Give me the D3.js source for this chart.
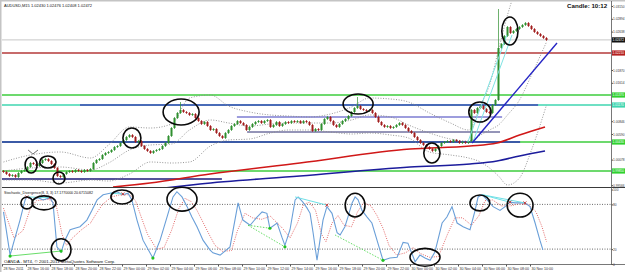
<!DOCTYPE html>
<html>
<head>
<meta charset="utf-8">
<script src="https://cdn.jsdelivr.net/npm/d3@7"></script>
<style>
  body { margin: 0; background: #fff; }
  svg { display: block; }
  text { font-family: "Liberation Sans", Arial, sans-serif; }
</style>
</head>
<body>
<div id="chart"></div>
<script>
// ---- DATA ----
const titleText = "AUDUSD,M15  1.02430 1.02476 1.02408 1.02472";
const stochText = "Stochastic_Divergence(8, 3, 3) 17.1770000 20.6715082";
const footText = "OANDA - MT4, \u00a9 2001-2011 MetaQuotes Software Corp.";
const candleTimer = "Candle:   10:12";

// 15 minute bars, oldest first
const firstOpen = 0.9985;
const closes = [
  0.9983, 0.9979, 0.9975, 0.9977, 0.9973, 0.9981, 0.9985, 0.9987, 0.9993, 1.0001,
  0.9999, 0.9995, 1.0001, 1.0007, 1.0009, 1.0005, 0.9999, 0.9991, 0.9975, 0.9973,
  0.9979, 0.9983, 0.9985, 0.9983, 0.9987, 0.9985, 0.9983, 0.9987, 0.9985, 0.9989,
  1.0001, 1.0007, 1.0009, 1.0017, 1.0021, 1.0023, 1.0027, 1.0033, 1.0035, 1.0041,
  1.0047, 1.0053, 1.0057, 1.0053, 1.0043, 1.0045, 1.0035, 1.0029, 1.0025, 1.0021,
  1.0025, 1.0027, 1.0029, 1.0035, 1.0041, 1.0055, 1.0071, 1.0091, 1.0101, 1.0107,
  1.0103, 1.0101, 1.0097, 1.0099, 1.0091, 1.0085, 1.0079, 1.0083, 1.0075, 1.0067,
  1.0069, 1.0061, 1.0055, 1.0051, 1.0061, 1.0067, 1.0075, 1.0079, 1.0085, 1.0081,
  1.0077, 1.0067, 1.0073, 1.0079, 1.0083, 1.0085, 1.0081, 1.0085, 1.0087, 1.0073,
  1.0077, 1.0083, 1.0075, 1.0079, 1.0083, 1.0081, 1.0085, 1.0083, 1.0085, 1.0081,
  1.0085, 1.0083, 1.0077, 1.0065, 1.0069, 1.0067, 1.0079, 1.0089, 1.0093, 1.0085,
  1.0077, 1.0073, 1.0079, 1.0085, 1.0089, 1.0095, 1.0103, 1.0111, 1.0115, 1.0109,
  1.0107, 1.0105, 1.0107, 1.0101, 1.0093, 1.0083, 1.0077, 1.0073, 1.0075, 1.0071,
  1.0073, 1.0077, 1.0081, 1.0077, 1.0071, 1.0065, 1.0061, 1.0053, 1.0047, 1.0041,
  1.0037, 1.0033, 1.0029, 1.0025, 1.0029, 1.0035, 1.0041, 1.0043, 1.0045, 1.0043,
  1.0047, 1.0045, 1.0041, 1.0043, 1.0041, 1.0045, 1.0107, 1.0101, 1.0111, 1.0115,
  1.0109, 1.0103, 1.0101, 1.0117, 1.0127, 1.0231, 1.0239, 1.0255, 1.0273, 1.0261,
  1.0265, 1.0269, 1.0273, 1.0277, 1.0281, 1.0275, 1.0269, 1.0263, 1.0259, 1.0255,
  1.0251, 1.0247
];
// bars with a visible upper wick: [bar, high]
const spikes = [[59, 1.0121], [118, 1.0131], [165, 1.0307]];

const currentPrice = 1.02472;
const levelPrices = [1.0221, 1.0137, 1.0117, 1.0043, 0.9985];
// horizontal segments: [fromBar, toBar, price]
const segments = [[25.5, 178.2, 1.0117], [-0.5, 172.2, 1.0043], [-0.5, 72.8, 0.9969],
                  [77.8, 166.2, 1.0093], [81.2, 165.5, 1.0063]];
// trend lines: [bar1, price1, bar2, price2]
const trendBlue = [[156.2, 1.0041, 184.5, 1.0241]];
const trendCyan = [[154.8, 1.0043, 167.8, 1.0257], [156.5, 1.0043, 169.5, 1.0257]];

// moving averages: [bar, price]
const maRed = [[36.5, 0.9953], [48.8, 0.9961], [68.8, 0.9979], [98.8, 1.0001], [135.5, 1.0029],
               [155.5, 1.0035], [164.5, 1.0041], [172, 1.0057], [180.5, 1.0073]];
const maBlue = [[53.8, 0.9951], [65.5, 0.9959], [98.8, 0.9975], [135.5, 0.9993], [155.5, 0.9999],
                [164.5, 1.0005], [172, 1.0015], [180.5, 1.0025]];

// bollinger bands
const bandBars  = [0, 9, 19, 29, 35, 42, 49, 56, 62, 69, 75, 82, 89, 95, 102, 109, 116, 122, 129, 135,
                   142, 149, 155, 159, 162, 165, 168, 172, 176, 181];
const bandUpper = [1.0003, 1.0017, 1.0023, 1.0011, 1.0037, 1.0073, 1.0071, 1.0079, 1.0131, 1.0137,
                   1.0115, 1.0103, 1.0097, 1.0095, 1.0093, 1.0099, 1.0113, 1.0131, 1.0129, 1.0123,
                   1.0101, 1.0081, 1.0067, 1.0117, 1.0157, 1.0227, 1.0297, 1.0367, 1.0407, 1.0427];
const bandMid   = [0.9985, 0.9991, 0.9993, 0.9987, 1.0001, 1.0027, 1.0037, 1.0039, 1.0067, 1.0087,
                   1.0081, 1.0075, 1.0079, 1.0081, 1.0081, 1.0081, 1.0087, 1.0097, 1.0093, 1.0077,
                   1.0061, 1.0049, 1.0045, 1.0057, 1.0067, 1.0077, 1.0097, 1.0127, 1.0177, 1.0243];
const bandLower = [0.9967, 0.9967, 0.9961, 0.9967, 0.9965, 0.9979, 1.0003, 1.0001, 1.0003, 1.0035,
                   1.0047, 1.0049, 1.0061, 1.0067, 1.0067, 1.0063, 1.0059, 1.0061, 1.0057, 1.0051,
                   1.0023, 1.0017, 1.0011, 1.0003, 0.9991, 0.9975, 0.9957, 0.9971, 1.0027, 1.0117];

// stochastic: [bar, value]
const stochMain = [[0, 70], [2.2, 12], [5.5, 59], [7.2, 86], [7.8, 90], [9.8, 86], [11.5, 89], [13.2, 86],
  [15.5, 89], [16.5, 82], [17.8, 23], [19.2, 16], [20.5, 32], [22.2, 46], [23.8, 48], [25.5, 50],
  [27.8, 59], [29.5, 72], [31.2, 86], [33.2, 93], [35.5, 95], [37.8, 97], [39.8, 93], [41.5, 95],
  [42.8, 86], [44.5, 59], [46.5, 32], [49.8, 8], [52.2, 32], [54.5, 63], [56.5, 90], [57.8, 97],
  [59.5, 90], [61.2, 77], [62.8, 63], [64.5, 50], [66.5, 32], [68.8, 19], [69.8, 15], [72.2, 12],
  [75.5, 23], [78.2, 82], [79.8, 59], [82.2, 52], [84.5, 63], [86.2, 70], [87.8, 68], [88.8, 48],
  [91.2, 55], [92.8, 36], [93.8, 25], [95.5, 46], [97.2, 86], [98.2, 90], [99.8, 83], [101.2, 75],
  [102.2, 68], [103.2, 42], [104.5, 5], [105.5, 32], [106.5, 59], [107.8, 77], [109.5, 68], [111.2, 42],
  [112.2, 39], [113.8, 50], [114.8, 63], [116.2, 82], [117.2, 90], [118.2, 86], [119.5, 72], [121.2, 63],
  [122.8, 55], [124.5, 32], [126.5, 5], [128.8, 8], [131.2, 9], [133.2, 29], [134.8, 28], [137.2, 3],
  [138.8, 12], [140.5, 8], [142.2, 5], [143.8, 16], [146.2, 55], [147.8, 63], [149.5, 77], [151.2, 55],
  [153.2, 50], [155.5, 46], [157.2, 72], [158.2, 90], [159.5, 93], [161.2, 86], [163.2, 77], [165.5, 72],
  [167.2, 77], [168.8, 83], [170.5, 82], [172.2, 82], [173.8, 82], [175.5, 77], [177.2, 55], [178.8, 32],
  [179.8, 19]];
const stochSignal = [[0, 75], [3.5, 35], [6.5, 45], [9, 75], [11, 85], [15, 87], [17.5, 80], [19.5, 40],
  [21, 25], [23, 35], [26, 46], [29, 55], [31, 68], [33, 80], [36, 90], [39, 93], [42, 93], [44, 85],
  [46, 62], [48, 40], [51, 20], [53.5, 22], [56, 45], [58.5, 75], [60.5, 88], [62.5, 84], [64.5, 72],
  [66.5, 56], [68.5, 40], [70.5, 25], [73, 17], [76, 18], [78, 45], [80.5, 68], [83, 62], [86, 60],
  [89, 64], [90.5, 58], [93, 48], [95.5, 35], [98, 55], [100, 80], [102, 83], [104, 72], [106, 40],
  [107.5, 30], [109.5, 55], [111.5, 65], [113.5, 52], [116, 50], [118, 70], [120, 82], [122.5, 78],
  [124.5, 65], [126.5, 48], [128.5, 25], [131, 12], [134, 15], [136.5, 22], [139, 14], [142, 9],
  [145, 10], [148, 40], [150.5, 62], [153, 62], [156, 52], [158.5, 65], [160.5, 85], [163, 86],
  [166, 78], [169, 78], [172, 81], [175, 80], [177.5, 70], [179.5, 50], [181, 30]];
const stochLevels = [80, 20];
const stochTicks = [100, 80, 20, 0];

// divergence marks: [bar1, value1, bar2, value2]
const divGreen = [[2.2, 10.7, 19.2, 17.4], [81.5, 52, 88.8, 48], [81.5, 52, 93.8, 23], [110.5, 39, 126.5, 5]];
const divCyan = [[7.8, 90, 15.5, 89], [35.5, 95, 39.8, 94], [97.2, 90, 107.8, 79],
                 [159.5, 93, 168.8, 83], [159.5, 93, 173.8, 82]];
const greenDots = [[2.2, 10.7], [19.2, 17.4], [49.8, 8], [88.8, 48], [93.8, 23], [126.5, 5]];
const redMarks = [[7.8, 90], [15.5, 89], [39.8, 94], [107.8, 79], [168.8, 83], [173.8, 82]];

// hand drawn circles: [bar, price, halfWidthBars, halfHeightPrice]
const circlesMain = [[59.2, 1.0103, 6, 0.0026], [42.8, 1.0051, 3, 0.0020], [9.2, 0.9997, 2, 0.0016],
  [14.8, 1.0003, 2.7, 0.0012], [18.5, 0.9971, 2, 0.0012], [118.2, 1.0119, 5, 0.0020],
  [158.8, 1.0103, 3.7, 0.0020], [142.8, 1.0021, 2.7, 0.0020], [168.8, 1.0265, 2.7, 0.0028]];
// [bar, value, halfWidthBars, halfHeightValue]
const circlesStoch = [[7.8, 82, 2, 8], [13.5, 82, 4, 9.4], [19.2, 19, 3.3, 14.8], [39.5, 90, 3.7, 9.4],
  [59.5, 87, 5, 16], [117.2, 79, 3.3, 16], [158.8, 82, 3.3, 10.7], [172.2, 79, 4.3, 16], [140.5, 9, 5, 12]];
const tickMark = [[8.2, 1.0027], [9.8, 1.0019], [11.5, 1.0027]];

// axis labels
const priceTicks = [1.03150, 1.02894, 1.02638, 1.02382, 1.02126, 1.01870, 1.01614, 1.01358,
                    1.01102, 1.00846, 1.00590, 1.00334, 1.00078, 0.99822, 0.99566];
const timeLabels = ["28 Nov 2011", "28 Nov 16:00", "28 Nov 18:00", "28 Nov 20:00", "28 Nov 22:00",
  "29 Nov 00:00", "29 Nov 02:00", "29 Nov 04:00", "29 Nov 06:00", "29 Nov 08:00", "29 Nov 10:00",
  "29 Nov 12:00", "29 Nov 14:00", "29 Nov 16:00", "29 Nov 18:00", "29 Nov 20:00", "29 Nov 22:00",
  "30 Nov 00:00", "30 Nov 02:00", "30 Nov 04:00", "30 Nov 06:00", "30 Nov 08:00", "30 Nov 10:00"];
const barsPerLabel = 8;

// ---- LAYOUT ----
const W = 625, H = 272;
const plotL = 2, plotR = 611;
const mainT = 2, mainB = 187, indT = 188, indB = 264;
const axisFont = 3.2;

const svg = d3.select("#chart").append("svg")
  .attr("width", W).attr("height", H);

const x = d3.scaleLinear().domain([-0.5, 202.5]).range([plotL, plotR]);
const y = d3.scaleLinear().domain([0.9953, 1.0323]).range([mainB, mainT]);
const ys = d3.scaleLinear().domain([0, 100]).range([indB, 189.5]);

const defs = svg.append("defs");
defs.append("clipPath").attr("id", "clipMain").append("rect")
  .attr("x", plotL).attr("y", mainT).attr("width", plotR - plotL).attr("height", mainB - mainT);
defs.append("clipPath").attr("id", "clipInd").append("rect")
  .attr("x", plotL).attr("y", indT).attr("width", plotR - plotL).attr("height", indB - indT);

// frame
svg.append("rect").attr("x", 0).attr("y", 0).attr("width", W).attr("height", 1.5).attr("fill", "#c4c4c4");
svg.append("rect").attr("x", 0).attr("y", 0).attr("width", 1.5).attr("height", H).attr("fill", "#c4c4c4");

const gMain = svg.append("g").attr("clip-path", "url(#clipMain)");
const gInd = svg.append("g").attr("clip-path", "url(#clipInd)");

// ---- MAIN PANE ----
gMain.append("line")
  .attr("x1", plotL).attr("x2", plotR)
  .attr("y1", y(currentPrice)).attr("y2", y(currentPrice))
  .attr("stroke", "#c8c8c8").attr("stroke-width", 1);

const levelColors = ["#b53a3a", "#3dcc3d", "#3fd6b0", "#3dcc3d", "#3dcc3d"];
levelPrices.forEach((p, k) => {
  gMain.append("line")
    .attr("x1", plotL).attr("x2", plotR).attr("y1", y(p)).attr("y2", y(p))
    .attr("stroke", levelColors[k]).attr("stroke-width", 1.3);
});

const segColors = ["#4a6cb8", "#3b5aa6", "#1b1b78", "#7c7cd2", "#2b2b70"];
const segWidths = [2, 2, 1.5, 1.5, 1];
segments.forEach((s, k) => {
  gMain.append("line")
    .attr("x1", x(s[0])).attr("x2", x(s[1])).attr("y1", y(s[2])).attr("y2", y(s[2]))
    .attr("stroke", segColors[k]).attr("stroke-width", segWidths[k]);
});

// bollinger bands
const bandLine = vals => d3.line()
  .x((d, i) => x(bandBars[i])).y(d => y(d))
  .curve(d3.curveMonotoneX)(vals);
[bandUpper, bandMid, bandLower].forEach(vals => {
  gMain.append("path").attr("d", bandLine(vals))
    .attr("fill", "none").attr("stroke", "#8a8a8a")
    .attr("stroke-width", 0.9).attr("stroke-dasharray", "1,1.6");
});

// moving averages
const maLine = d3.line().x(d => x(d[0])).y(d => y(d[1])).curve(d3.curveMonotoneX);
gMain.append("path").attr("d", maLine(maRed))
  .attr("fill", "none").attr("stroke", "#d01818").attr("stroke-width", 1.6);
gMain.append("path").attr("d", maLine(maBlue))
  .attr("fill", "none").attr("stroke", "#1c1c9c").attr("stroke-width", 1.6);

// candles
const bars = closes.map((c, i) => {
  const o = i === 0 ? firstOpen : closes[i - 1];
  const sp = spikes.find(s => s[0] === i);
  return { i, o, c, hi: sp ? sp[1] : Math.max(o, c), lo: Math.min(o, c) };
});
const bull = "#2f8f2f", bear = "#a11d1d";
gMain.selectAll(".wick").data(bars).join("line")
  .attr("class", "wick")
  .attr("x1", d => x(d.i)).attr("x2", d => x(d.i))
  .attr("y1", d => y(d.hi) - 1).attr("y2", d => y(d.lo) + 1)
  .attr("stroke", d => d.c >= d.o ? bull : bear).attr("stroke-width", 0.7);
gMain.selectAll(".body").data(bars).join("rect")
  .attr("class", "body")
  .attr("x", d => x(d.i) - 1).attr("width", 2)
  .attr("y", d => y(Math.max(d.o, d.c)))
  .attr("height", d => Math.max(1, Math.abs(y(d.o) - y(d.c))))
  .attr("fill", d => d.c >= d.o ? bull : bear);

// trend lines
trendCyan.forEach(t => {
  gMain.append("line").attr("x1", x(t[0])).attr("y1", y(t[1])).attr("x2", x(t[2])).attr("y2", y(t[3]))
    .attr("stroke", "#7fe3e3").attr("stroke-width", 1);
});
trendBlue.forEach(t => {
  gMain.append("line").attr("x1", x(t[0])).attr("y1", y(t[1])).attr("x2", x(t[2])).attr("y2", y(t[3]))
    .attr("stroke", "#2424c4").attr("stroke-width", 1.4);
});

// ---- STOCHASTIC PANE ----
stochLevels.forEach(v => {
  gInd.append("line").attr("x1", plotL).attr("x2", plotR).attr("y1", ys(v)).attr("y2", ys(v))
    .attr("stroke", "#444").attr("stroke-width", 0.8).attr("stroke-dasharray", "1,1.5");
});
const stLine = d3.line().x(d => x(d[0])).y(d => ys(d[1]));
gInd.append("path").attr("d", stLine(stochSignal))
  .attr("fill", "none").attr("stroke", "#e05858").attr("stroke-width", 0.9).attr("stroke-dasharray", "1,1.3");
gInd.append("path").attr("d", stLine(stochMain))
  .attr("fill", "none").attr("stroke", "#6a9fd8").attr("stroke-width", 1.1);

divGreen.forEach((d, k) => {
  gInd.append("line").attr("x1", x(d[0])).attr("y1", ys(d[1])).attr("x2", x(d[2])).attr("y2", ys(d[3]))
    .attr("stroke", "#57d957").attr("stroke-width", 0.9)
    .attr("stroke-dasharray", k === 0 ? null : "1.5,1.5");
});
divCyan.forEach(d => {
  gInd.append("line").attr("x1", x(d[0])).attr("y1", ys(d[1])).attr("x2", x(d[2])).attr("y2", ys(d[3]))
    .attr("stroke", "#6fe0e6").attr("stroke-width", 1);
});
gInd.selectAll(".gdot").data(greenDots).join("circle")
  .attr("class", "gdot").attr("cx", d => x(d[0])).attr("cy", d => ys(d[1])).attr("r", 1.6)
  .attr("fill", "#22c322");
gInd.selectAll(".rmark").data(redMarks).join("path")
  .attr("class", "rmark")
  .attr("d", d => { const cx = x(d[0]), cy = ys(d[1]);
    return `M${cx - 1.5},${cy - 1.5}L${cx + 1.5},${cy + 1.5}M${cx + 1.5},${cy - 1.5}L${cx - 1.5},${cy + 1.5}`; })
  .attr("stroke", "#c43030").attr("stroke-width", 0.9);

// ---- PANE LINES AND AXES ----
svg.append("line").attr("x1", plotL).attr("x2", W).attr("y1", 187.5).attr("y2", 187.5)
  .attr("stroke", "#3a3a3a").attr("stroke-width", 1.2);
svg.append("line").attr("x1", plotL).attr("x2", W).attr("y1", indB + 0.5).attr("y2", indB + 0.5)
  .attr("stroke", "#555").attr("stroke-width", 0.8);
svg.append("line").attr("x1", plotR + 0.5).attr("x2", plotR + 0.5).attr("y1", 1).attr("y2", indB + 1)
  .attr("stroke", "#555").attr("stroke-width", 0.8);

// tick labels hidden under a coloured price tag, as the terminal does
const tagPrices = [currentPrice].concat(levelPrices);
const underTag = p => tagPrices.some(t => Math.abs(y(t) - y(p)) < 5);

svg.append("g").attr("transform", `translate(${plotR + 0.5},0)`)
  .call(d3.axisRight(y).tickValues(priceTicks.filter(p => !underTag(p)))
    .tickFormat(d3.format(".5f")).tickSize(1.5))
  .call(g => g.select(".domain").remove())
  .call(g => g.selectAll("line").attr("stroke", "#555"))
  .call(g => g.selectAll("text").attr("x", 1.6).attr("font-size", axisFont)
    .attr("font-family", "Liberation Sans, Arial, sans-serif").attr("fill", "#333"));

svg.append("g").attr("transform", `translate(${plotR + 0.5},0)`)
  .call(d3.axisRight(ys).tickValues(stochTicks).tickSize(1.5))
  .call(g => g.select(".domain").remove())
  .call(g => g.selectAll("line").attr("stroke", "#555"))
  .call(g => g.selectAll("text").attr("x", 1.6).attr("font-size", axisFont)
    .attr("font-family", "Liberation Sans, Arial, sans-serif").attr("fill", "#333"));

svg.append("g").attr("transform", `translate(0,${indB + 0.5})`)
  .call(d3.axisBottom(x).tickValues(timeLabels.map((t, k) => k * barsPerLabel - 0.5))
    .tickFormat((d, k) => timeLabels[k]).tickSize(2))
  .call(g => g.select(".domain").remove())
  .call(g => g.selectAll("line").attr("stroke", "#555"))
  .call(g => g.selectAll("text").attr("text-anchor", "start").attr("x", 1).attr("y", 2.5)
    .attr("font-size", 3.6).attr("font-family", "Liberation Sans, Arial, sans-serif").attr("fill", "#333"));

// level tags on the price axis
const tagFills = ["#111", "#b52020", "#2fd12f", "#3fd6b0", "#2fd12f", "#2fd12f"];
tagPrices.forEach((p, k) => {
  svg.append("rect").attr("x", plotR + 1).attr("y", y(p) - 2.6).attr("width", W - plotR - 1).attr("height", 5.2)
    .attr("fill", tagFills[k]);
  svg.append("text").attr("x", plotR + 1.6).attr("y", y(p) + 1.2).attr("font-size", axisFont)
    .attr("fill", "#fff").text(d3.format(".5f")(p));
});

// ---- TEXTS ----
svg.append("text").attr("x", 4).attr("y", 6.5).attr("font-size", 4).attr("fill", "#111").text(titleText);
svg.append("text").attr("x", 567).attr("y", 8).attr("font-size", 6.2).attr("font-weight", "bold")
  .attr("fill", "#111").text(candleTimer);
svg.append("text").attr("x", 4).attr("y", 194).attr("font-size", 3.6).attr("fill", "#111").text(stochText);
svg.append("text").attr("x", 4).attr("y", 262.5).attr("font-size", 4.4).attr("fill", "#111").text(footText);

// ---- HAND DRAWN ANNOTATIONS ----
const ink = svg.append("g").attr("fill", "none").attr("stroke", "#0a0a0a").attr("stroke-width", 1.6);
circlesMain.forEach(c => {
  ink.append("ellipse").attr("cx", x(c[0])).attr("cy", y(c[1]))
    .attr("rx", x(c[2]) - x(0)).attr("ry", y(0) - y(c[3]));
});
circlesStoch.forEach(c => {
  ink.append("ellipse").attr("cx", x(c[0])).attr("cy", ys(c[1]))
    .attr("rx", x(c[2]) - x(0)).attr("ry", ys(0) - ys(c[3]));
});
ink.append("path").attr("d", d3.line().x(d => x(d[0])).y(d => y(d[1]))(tickMark))
  .attr("stroke-width", 0.7).attr("stroke", "#333");
</script>
</body>
</html>
